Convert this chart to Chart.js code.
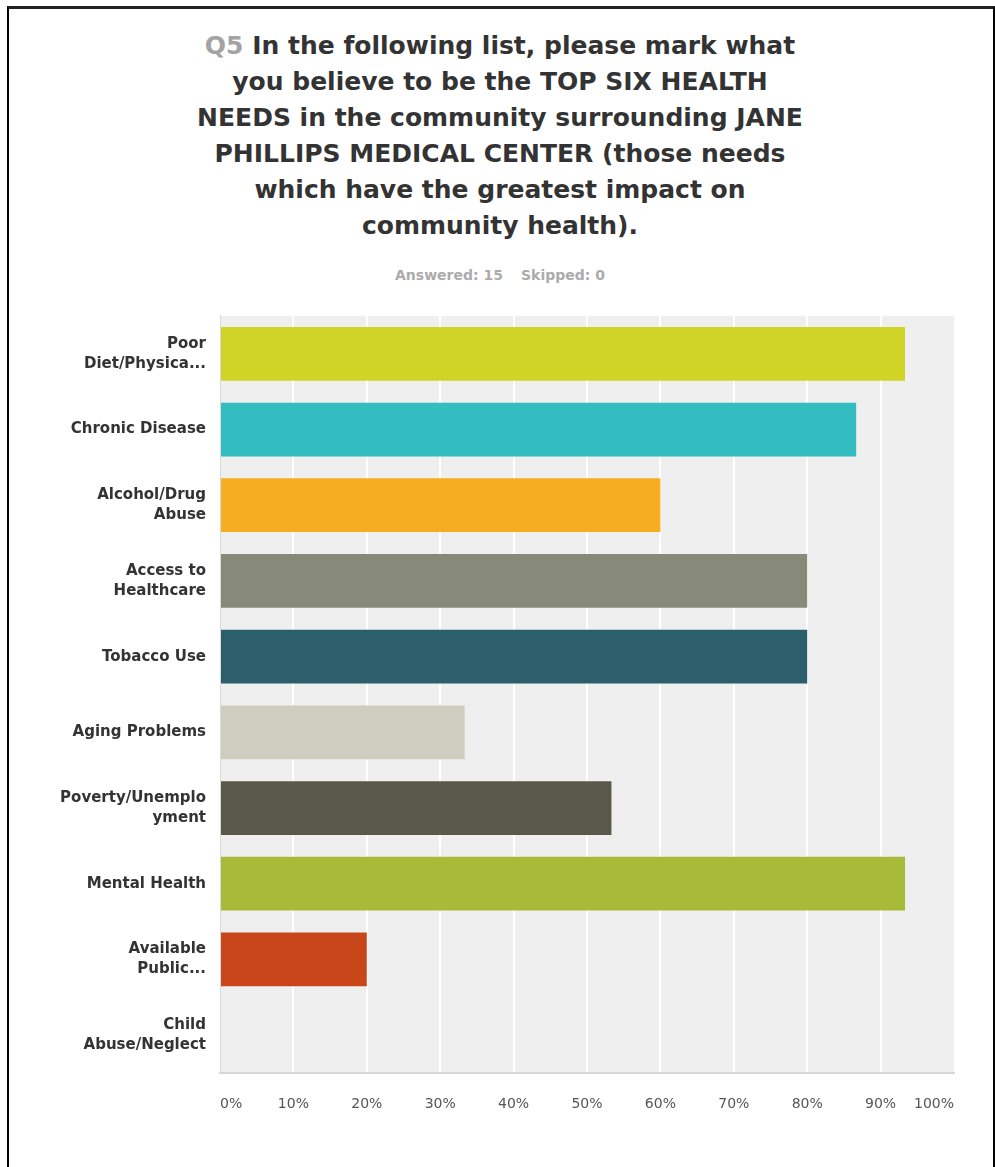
<!DOCTYPE html>
<html>
<head>
<meta charset="utf-8">
<title>Q5 Top six health needs</title>
<script src="https://cdn.jsdelivr.net/npm/chart.js@4.4.1/dist/chart.umd.min.js"></script>
<style>
  html, body { margin: 0; padding: 0; background: #fff; }
  body { width: 995px; height: 1167px; position: relative; overflow: hidden; font-family: 'DejaVu Sans', sans-serif; }
  .frame { position: absolute; left: 7px; top: 6px; width: 984px; height: 1180px; border-left: 2px solid #000; border-right: 2px solid #000; border-top: 3px solid #222; }
  .title { position: absolute; top: 28px; left: 0; width: 1000px; text-align: center; font-weight: bold; font-size: 25px; line-height: 36px; color: #333; }
  .title .q { color: #a3a3a3; }
  .meta { position: absolute; top: 265px; left: 0; width: 1000px; text-align: center; font-weight: bold; font-size: 14px; line-height: 20px; color: #ababab; }
  .meta span + span { margin-left: 18px; }
  .wrap { position: absolute; left: 0; top: 282px; width: 995px; height: 885px; }
</style>
</head>
<body>
<div class="frame"></div>
<div class="title"><span class="q">Q5</span> In the following list, please mark what<br>you believe to be the TOP SIX HEALTH<br>NEEDS in the community surrounding JANE<br>PHILLIPS MEDICAL CENTER (those needs<br>which have the greatest impact on<br>community health).</div>
<div class="meta"><span>Answered: 15</span><span>Skipped: 0</span></div>
<div class="wrap"><canvas id="chart" width="995" height="885"></canvas></div>

<script>
const categories = [
  ['Poor', 'Diet/Physica...'],
  'Chronic Disease',
  ['Alcohol/Drug', 'Abuse'],
  ['Access to', 'Healthcare'],
  'Tobacco Use',
  'Aging Problems',
  ['Poverty/Unemplo', 'yment'],
  'Mental Health',
  ['Available', 'Public...'],
  ['Child', 'Abuse/Neglect']
];
const percents = [93.33, 86.67, 60, 80, 80, 33.33, 53.33, 93.33, 20, 0];
const barColors = ['#cfd427', '#33bdc0', '#f6ae20', '#878a79', '#2d5e6b', '#cfcdc0', '#5a5849', '#a7bb38', '#c8461a', '#8c8c8c'];
const tickValues = [0, 10, 20, 30, 40, 50, 60, 70, 80, 90, 100];

// grey panel behind the bars
const plotBackground = {
  id: 'plotBackground',
  beforeDraw(chart) {
    const { ctx, chartArea: a } = chart;
    ctx.save();
    ctx.fillStyle = '#efefef';
    ctx.fillRect(a.left, a.top, a.right - a.left, a.bottom - a.top);
    ctx.restore();
  }
};

new Chart(document.getElementById('chart'), {
  type: 'bar',
  data: {
    labels: categories,
    datasets: [{
      data: percents,
      backgroundColor: barColors,
      borderWidth: 0,
      barPercentage: 0.71,
      categoryPercentage: 1
    }]
  },
  options: {
    indexAxis: 'y',
    responsive: false,
    animation: false,
    layout: { padding: { top: 10, right: 41, bottom: 44, left: 0 } },
    plugins: {
      legend: { display: false },
      tooltip: { enabled: false }
    },
    scales: {
      x: {
        min: 0,
        max: 100,
        afterBuildTicks: axis => { axis.ticks = tickValues.map(v => ({ value: v })); },
        afterFit: axis => { axis.height = 50; },
        grid: {
          drawTicks: false,
          lineWidth: 2,
          color: c => (c.tick && (c.tick.value === 0 || c.tick.value === 100)) ? 'rgba(0,0,0,0)' : '#ffffff'
        },
        border: { display: true, color: '#d6d6d6', width: 2 },
        ticks: {
          align: 'inner',
          padding: 23,
          color: '#555',
          font: { family: 'DejaVu Sans', size: 14 },
          callback: v => v + '%'
        }
      },
      y: {
        afterFit: axis => { axis.width = 220; },
        grid: { display: false, drawTicks: false },
        border: { display: true, color: '#dadada', width: 1 },
        ticks: {
          padding: 14,
          color: '#333',
          font: { family: 'DejaVu Sans', size: 15, weight: 'bold', lineHeight: 1.33 }
        }
      }
    }
  },
  plugins: [plotBackground]
});
</script>
</body>
</html>
